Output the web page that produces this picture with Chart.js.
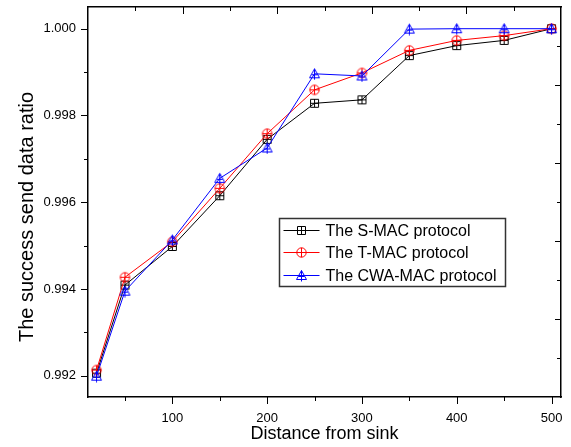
<!DOCTYPE html>
<html>
<head>
<meta charset="utf-8">
<script src="https://cdn.jsdelivr.net/npm/chart.js@4.4.1/dist/chart.umd.min.js"></script>
<style>
    html, body { margin: 0; padding: 0; background: #fff; }
    #wrap { width: 571px; height: 447px; }
</style>
</head>
<body>
<div id="wrap"><canvas id="grafico" width="571" height="447"></canvas></div>
<script>
// Datos
const distancias = [20, 50, 100, 150, 200, 250, 300, 350, 400, 450, 500];
const smac = [0.99206, 0.99409, 0.99498, 0.99615, 0.99745, 0.99828, 0.99836, 0.99938, 0.99961, 0.99973, 1.00000];
const tmac = [0.99213, 0.99427, 0.99509, 0.99632, 0.99758, 0.99859, 0.99898, 0.99950, 0.99973, 0.99984, 1.00000];
const cwamac = [0.99199, 0.99395, 0.99513, 0.99655, 0.99725, 0.99896, 0.99891, 0.99999, 1.00000, 1.00000, 1.00000];
const etiquetas = ["The S-MAC protocol", "The T-MAC protocol", "The CWA-MAC protocol"];
const xTicks = [50, 100, 150, 200, 250, 300, 350, 400, 450, 500];
const yTicks = [0.992, 0.993, 0.994, 0.995, 0.996, 0.997, 0.998, 0.999, 1.000];
const tituloY = "The success send data ratio";

const fuente = '"Liberation Sans", Arial, sans-serif';
Chart.defaults.font.family = fuente;
Chart.defaults.color = "#000";

// Marcadores huecos con cruz
function marcador(tipo, color) {
    const c = document.createElement("canvas");
    c.width = 13;
    c.height = 13;
    const g = c.getContext("2d");
    g.strokeStyle = color;
    g.lineWidth = 1;
    g.beginPath();
    if (tipo === "cuadrado") {
        g.rect(2.5, 2.5, 8, 8);
        g.moveTo(6.5, 2.5); g.lineTo(6.5, 10.5);
        g.moveTo(2.5, 6.5); g.lineTo(10.5, 6.5);
    } else if (tipo === "circulo") {
        g.arc(6.5, 6.5, 4.7, 0, Math.PI * 2);
        g.moveTo(6.5, 1.8); g.lineTo(6.5, 11.2);
        g.moveTo(1.8, 6.5); g.lineTo(11.2, 6.5);
    } else {
        g.moveTo(6.5, 1.5); g.lineTo(11.5, 10.5); g.lineTo(1.5, 10.5); g.closePath();
        g.moveTo(6.5, 1.5); g.lineTo(6.5, 12.5);
        g.moveTo(3.5, 7.5); g.lineTo(9.5, 7.5);
    }
    g.stroke();
    return c;
}

const puntos = (serie) => distancias.map((d, i) => ({ x: d, y: serie[i] }));

// Quita el relleno automático que Chart.js reserva para las etiquetas
function sinRelleno(s) {
    s.paddingLeft = 0;
    s.paddingRight = 0;
    s.paddingTop = 0;
    s.paddingBottom = 0;
}

// Marcas de los ejes (mayores y menores)
const marcasEjes = {
    id: "marcasEjes",
    afterDraw(chart) {
        const { ctx, chartArea: a, scales } = chart;
        ctx.save();
        ctx.strokeStyle = "#000";
        ctx.lineWidth = 1;
        ctx.beginPath();
        scales.x.ticks.forEach((t) => {
            const px = Math.round(scales.x.getPixelForValue(t.value)) + 0.5;
            const largo = t.value % 100 === 0 ? 7 : 4;
            ctx.moveTo(px, a.bottom); ctx.lineTo(px, a.bottom + largo);
        });
        scales.y.ticks.forEach((t) => {
            const py = Math.round(scales.y.getPixelForValue(t.value)) + 0.5;
            const largo = Math.round(t.value * 1000) % 2 === 0 ? 7 : 4;
            ctx.moveTo(a.left, py); ctx.lineTo(a.left - largo, py);
        });
        scales.x2.ticks.forEach((t) => {
            if (t.value <= 0 || t.value >= 10) return;
            const px = Math.round(scales.x2.getPixelForValue(t.value)) + 0.5;
            const largo = t.value % 2 === 0 ? 7 : 4;
            ctx.moveTo(px, a.top); ctx.lineTo(px, a.top + largo);
        });
        scales.y2.ticks.forEach((t) => {
            if (t.value <= 0 || t.value >= 10) return;
            const py = Math.round(scales.y2.getPixelForValue(t.value)) + 0.5;
            const largo = t.value % 2 === 0 ? 6 : 4;
            ctx.moveTo(a.right, py); ctx.lineTo(a.right - largo, py);
        });
        ctx.stroke();
        ctx.restore();
    }
};

// Título del eje Y (un poco por debajo del centro, como en el original)
const tituloEjeY = {
    id: "tituloEjeY",
    afterDraw(chart) {
        const { ctx, chartArea: a } = chart;
        ctx.save();
        ctx.translate(33, a.top + 210);
        ctx.rotate(-Math.PI / 2);
        ctx.font = "20px " + fuente;
        ctx.fillStyle = "#000";
        ctx.textAlign = "center";
        ctx.textBaseline = "alphabetic";
        ctx.fillText(tituloY, 0, 0);
        ctx.restore();
    }
};

// Leyenda dentro del área del gráfico
const leyenda = {
    id: "leyenda",
    afterDraw(chart) {
        const { ctx, chartArea: a } = chart;
        const x0 = a.left + 191.5, y0 = a.top + 211.5, w = 226, h = 68;
        ctx.save();
        ctx.fillStyle = "#fff";
        ctx.fillRect(x0, y0, w, h);
        ctx.strokeStyle = "#333";
        ctx.lineWidth = 1.5;
        ctx.strokeRect(x0, y0, w, h);
        ctx.font = "16px " + fuente;
        ctx.textBaseline = "middle";
        chart.data.datasets.forEach((ds, i) => {
            const cy = Math.round(y0 + 11 + i * 22.5) + 0.5;
            ctx.strokeStyle = ds.borderColor;
            ctx.lineWidth = 1;
            ctx.beginPath();
            ctx.moveTo(x0 + 4, cy);
            ctx.lineTo(x0 + 40, cy);
            ctx.stroke();
            const m = ds.pointStyle;
            ctx.drawImage(m, Math.round(x0 + 22 - m.width / 2), Math.round(cy - m.height / 2));
            ctx.fillStyle = "#000";
            ctx.fillText(ds.label, x0 + 46, cy + 1);
        });
        ctx.restore();
    }
};

const borde = { display: true, color: "#000", width: 1.5 };

new Chart(document.getElementById("grafico"), {
    type: "line",
    data: {
        datasets: [
            { label: etiquetas[0], data: puntos(smac), borderColor: "#000000", order: 2,
              pointStyle: marcador("cuadrado", "#000000") },
            { label: etiquetas[1], data: puntos(tmac), borderColor: "#ff0000", order: 1,
              pointStyle: marcador("circulo", "#ff0000") },
            { label: etiquetas[2], data: puntos(cwamac), borderColor: "#0000ff", order: 0,
              pointStyle: marcador("triangulo", "#0000ff") }
        ].map((ds) => Object.assign(ds, {
            borderWidth: 1,
            fill: false,
            tension: 0,
            pointRadius: 5,
            pointBackgroundColor: "transparent"
        }))
    },
    options: {
        responsive: false,
        animation: false,
        layout: { padding: { top: 7, right: 10, left: 0, bottom: 0 } },
        plugins: {
            legend: { display: false },
            tooltip: { enabled: false }
        },
        scales: {
            x: {
                type: "linear",
                position: "bottom",
                min: 11,
                max: 510,
                afterBuildTicks: (s) => { s.ticks = xTicks.map((v) => ({ value: v })); },
                afterFit: (s) => { s.height = 50; sinRelleno(s); },
                grid: { display: false, drawTicks: false },
                border: borde,
                ticks: {
                    padding: 14,
                    autoSkip: false,
                    maxRotation: 0,
                    font: { size: 13 },
                    callback: (v) => (v % 100 === 0 ? String(v) : "")
                },
                title: {
                    display: true,
                    text: "Distance from sink",
                    font: { size: 18, lineHeight: 1.2 },
                    padding: { top: 0, bottom: 2 }
                }
            },
            y: {
                type: "linear",
                position: "left",
                min: 0.99151,
                max: 1.0005,
                afterBuildTicks: (s) => { s.ticks = yTicks.map((v) => ({ value: v })); },
                afterFit: (s) => { s.width = 88; sinRelleno(s); },
                grid: { display: false, drawTicks: false },
                border: borde,
                ticks: {
                    padding: 12,
                    autoSkip: false,
                    font: { size: 13 },
                    callback: (v) => (Math.round(v * 1000) % 2 === 0 ? v.toFixed(3) : "")
                }
            },
            x2: {
                type: "linear",
                position: "top",
                min: 0,
                max: 10,
                afterFit: (s) => { s.height = 0; sinRelleno(s); },
                grid: { display: false, drawTicks: false },
                border: borde,
                ticks: { display: false, stepSize: 1 }
            },
            y2: {
                type: "linear",
                position: "right",
                min: 0,
                max: 10,
                afterFit: (s) => { s.width = 0; sinRelleno(s); },
                grid: { display: false, drawTicks: false },
                border: borde,
                ticks: { display: false, stepSize: 1 }
            }
        }
    },
    plugins: [marcasEjes, tituloEjeY, leyenda]
});
</script>
</body>
</html>
